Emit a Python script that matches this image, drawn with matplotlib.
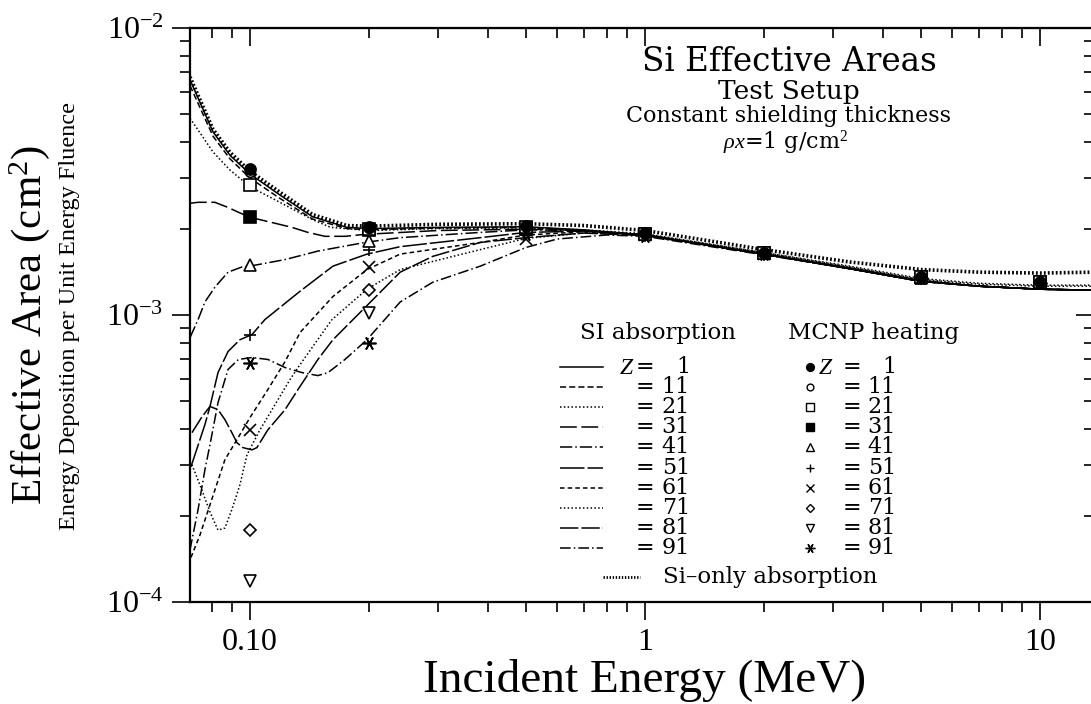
import matplotlib
matplotlib.use("Agg")
import matplotlib.pyplot as plt
from matplotlib.lines import Line2D
from matplotlib.ticker import NullFormatter

plt.rcParams['mathtext.fontset'] = 'custom'
plt.rcParams['mathtext.rm'] = 'Liberation Serif'
plt.rcParams['mathtext.it'] = 'Liberation Serif:italic'

# SI absorption curves, energy (MeV) and effective area (cm^2)
si_E = [0.0705, 0.0806, 0.089, 0.1, 0.119, 0.144, 0.176, 0.2, 0.3, 0.5, 0.7, 1, 2, 3.3, 5, 7, 10, 13.7]
si_A = [6.75e-3, 4.44e-3, 3.69e-3, 3.17e-3, 2.68e-3, 2.24e-3, 2.05e-3, 2.04e-3, 2.07e-3, 2.08e-3,
        2.05e-3, 1.97e-3, 1.69e-3, 1.53e-3, 1.44e-3, 1.41e-3, 1.40e-3, 1.41e-3]

tail_E = [0.7, 1, 2, 3.3, 5, 7, 10, 13.7]

z1_E = [0.0705, 0.0806, 0.089, 0.1, 0.119, 0.144, 0.176, 0.2, 0.3, 0.5] + tail_E
z1_A = [6.6e-3, 4.35e-3, 3.6e-3, 3.1e-3, 2.62e-3, 2.2e-3, 2.02e-3, 2.0e-3, 2.02e-3, 2.03e-3,
        1.98e-3, 1.90e-3, 1.63e-3, 1.46e-3, 1.32e-3, 1.26e-3, 1.23e-3, 1.22e-3]

z11_E = [0.0705, 0.0806, 0.089, 0.1, 0.119, 0.144, 0.176, 0.2, 0.3, 0.5] + tail_E
z11_A = [6.3e-3, 4.2e-3, 3.5e-3, 3.0e-3, 2.55e-3, 2.16e-3, 2.0e-3, 1.98e-3, 2.01e-3, 2.02e-3,
         1.97e-3, 1.90e-3, 1.63e-3, 1.45e-3, 1.31e-3, 1.26e-3, 1.23e-3, 1.22e-3]

z21_E = [0.0705, 0.0806, 0.089, 0.1, 0.119, 0.144, 0.16, 0.2, 0.3, 0.5] + tail_E
z21_A = [4.85e-3, 3.7e-3, 3.2e-3, 2.8e-3, 2.47e-3, 2.15e-3, 2.02e-3, 1.97e-3, 2.0e-3, 2.01e-3,
         1.98e-3, 1.92e-3, 1.65e-3, 1.48e-3, 1.34e-3, 1.29e-3, 1.27e-3, 1.27e-3]

z31_E = [0.0705, 0.0739, 0.0815, 0.088, 0.0935, 0.1, 0.1137, 0.1277, 0.1402, 0.1548, 0.174, 0.1955,
         0.3, 0.5] + tail_E
z31_A = [2.45e-3, 2.47e-3, 2.47e-3, 2.37e-3, 2.28e-3, 2.19e-3, 2.10e-3, 2.02e-3, 1.94e-3, 1.88e-3,
         1.88e-3, 1.91e-3, 1.97e-3, 1.99e-3,
         1.97e-3, 1.90e-3, 1.63e-3, 1.45e-3, 1.31e-3, 1.26e-3, 1.23e-3, 1.22e-3]

z41_E = [0.0705, 0.0739, 0.0769, 0.0815, 0.088, 0.0954, 0.1, 0.1227, 0.1486, 0.1955, 0.24, 0.383,
         0.5] + tail_E
z41_A = [8.34e-4, 9.64e-4, 1.11e-3, 1.25e-3, 1.41e-3, 1.47e-3, 1.48e-3, 1.56e-3, 1.67e-3, 1.79e-3,
         1.86e-3, 1.94e-3, 1.98e-3,
         1.97e-3, 1.90e-3, 1.63e-3, 1.45e-3, 1.31e-3, 1.26e-3, 1.23e-3, 1.22e-3]

z51_E = [0.0709, 0.0769, 0.0792, 0.083, 0.088, 0.0943, 0.1012, 0.1091, 0.1339, 0.1622, 0.1978, 0.24,
         0.383, 0.5] + tail_E
z51_A = [2.96e-4, 4.15e-4, 4.8e-4, 6.3e-4, 7.46e-4, 8.2e-4, 8.55e-4, 9.64e-4, 1.21e-3, 1.48e-3,
         1.63e-3, 1.73e-3, 1.86e-3, 1.94e-3,
         1.96e-3, 1.90e-3, 1.63e-3, 1.45e-3, 1.31e-3, 1.26e-3, 1.23e-3, 1.22e-3]

z61_E = [0.0709, 0.0747, 0.0792, 0.0839, 0.0864, 0.0927, 0.1, 0.111, 0.1227, 0.1339, 0.1622, 0.1978,
         0.24, 0.383, 0.5] + tail_E
z61_A = [1.43e-4, 1.71e-4, 2.18e-4, 2.77e-4, 3.13e-4, 3.68e-4, 4.39e-4, 5.5e-4, 6.88e-4, 8.69e-4,
         1.16e-3, 1.44e-3, 1.63e-3, 1.79e-3, 1.90e-3,
         1.95e-3, 1.90e-3, 1.63e-3, 1.45e-3, 1.31e-3, 1.26e-3, 1.23e-3, 1.22e-3]

z71_E = [0.0713, 0.0747, 0.0792, 0.083, 0.0864, 0.09, 0.0943, 0.0983, 0.106, 0.1157, 0.1263, 0.1339,
         0.1613, 0.1978, 0.24, 0.383, 0.5] + tail_E
z71_A = [3.01e-4, 2.56e-4, 2.06e-4, 1.78e-4, 1.81e-4, 2.10e-4, 2.56e-4, 3.26e-4, 3.98e-4, 4.87e-4,
         5.96e-4, 6.72e-4, 9.64e-4, 1.23e-3, 1.44e-3, 1.69e-3, 1.85e-3,
         1.93e-3, 1.91e-3, 1.65e-3, 1.47e-3, 1.33e-3, 1.28e-3, 1.26e-3, 1.26e-3]

z81_E = [0.0713, 0.0756, 0.0792, 0.083, 0.0864, 0.09, 0.0927, 0.096, 0.1012, 0.1041, 0.111, 0.1227,
         0.1323, 0.1486, 0.1622, 0.1933, 0.24, 0.29, 0.383, 0.5] + tail_E
z81_A = [3.89e-4, 4.42e-4, 4.8e-4, 4.68e-4, 4.32e-4, 3.89e-4, 3.59e-4, 3.45e-4, 3.39e-4, 3.45e-4,
         3.98e-4, 4.68e-4, 5.5e-4, 7.0e-4, 8.2e-4, 1.045e-3, 1.41e-3, 1.60e-3, 1.79e-3, 1.86e-3,
         1.93e-3, 1.89e-3, 1.63e-3, 1.45e-3, 1.31e-3, 1.26e-3, 1.23e-3, 1.22e-3]

z91_E = [0.0705, 0.0739, 0.0769, 0.0792, 0.083, 0.088, 0.0935, 0.1012, 0.111, 0.1227, 0.1354, 0.1486,
         0.1576, 0.174, 0.1978, 0.24, 0.29, 0.383, 0.5, 0.6, 0.8, 1, 2, 3.3, 5, 7, 10, 13.7]
z91_A = [1.52e-4, 2.10e-4, 2.89e-4, 3.53e-4, 4.95e-4, 6.46e-4, 7.0e-4, 7.11e-4, 7.0e-4, 6.56e-4,
         6.3e-4, 6.15e-4, 6.3e-4, 7.0e-4, 8.2e-4, 1.11e-3, 1.30e-3, 1.48e-3, 1.72e-3, 1.84e-3,
         1.90e-3, 1.88e-3, 1.62e-3, 1.45e-3, 1.31e-3, 1.26e-3, 1.23e-3, 1.22e-3]

# MCNP heating points
mcnp_E = [0.1, 0.2, 0.5, 1, 2, 5, 10]
m1 = [3.22e-3, 2.03e-3, 2.05e-3, 1.93e-3, 1.65e-3, 1.36e-3, 1.30e-3]
m11 = [3.15e-3, 2.01e-3, 2.04e-3, 1.92e-3, 1.65e-3, 1.36e-3, 1.30e-3]
m21 = [2.83e-3, 1.99e-3, 2.03e-3, 1.92e-3, 1.65e-3, 1.36e-3, 1.30e-3]
m31 = [2.19e-3, 1.98e-3, 2.01e-3, 1.91e-3, 1.64e-3, 1.36e-3, 1.30e-3]
m41 = [1.49e-3, 1.81e-3, 2.00e-3, 1.91e-3, 1.64e-3, 1.35e-3, 1.30e-3]
m51 = [8.55e-4, 1.68e-3, 1.98e-3, 1.91e-3, 1.64e-3, 1.35e-3, 1.29e-3]
m61 = [3.98e-4, 1.47e-3, 1.84e-3, 1.90e-3, 1.63e-3, 1.35e-3, 1.29e-3]
m71 = [1.78e-4, 1.22e-3, 1.95e-3, 1.90e-3, 1.63e-3, 1.35e-3, 1.29e-3]
m81 = [1.18e-4, 1.02e-3, 1.94e-3, 1.90e-3, 1.63e-3, 1.35e-3, 1.29e-3]
m91 = [6.83e-4, 8.0e-4, 1.92e-3, 1.89e-3, 1.63e-3, 1.35e-3, 1.29e-3]

z_labels = ['1', '11', '21', '31', '41', '51', '61', '71', '81', '91']

curves = [(z1_E, z1_A), (z11_E, z11_A), (z21_E, z21_A), (z31_E, z31_A), (z41_E, z41_A),
          (z51_E, z51_A), (z61_E, z61_A), (z71_E, z71_A), (z81_E, z81_A), (z91_E, z91_A)]
mcnp = [m1, m11, m21, m31, m41, m51, m61, m71, m81, m91]

# line style and marker for each Z
styles = ['-', (0, (4, 2)), (0, (1, 1.5)), (0, (11, 3)), (0, (8, 2, 1, 2)),
          (0, (16, 2)), (0, (3, 2)), (0, (1, 1.5)), (0, (12, 2)), (0, (7, 2, 1, 2))]
marks = [('o', True, 8), ('o', False, 7), ('s', False, 8), ('s', True, 8), ('^', False, 9),
         ('+', False, 9), ('x', False, 8), ('D', False, 6), ('v', False, 9), ((6, 2, 90), False, 10)]

fig = plt.figure(figsize=(10.91, 7.04), dpi=100)
ax = fig.add_axes([190 / 1091, 1 - 602 / 704, 904 / 1091, 574 / 704])
ax.set_xscale('log')
ax.set_yscale('log')
ax.set_xlim(0.0705, 13.7)
ax.set_ylim(1e-4, 1e-2)

ax.plot(si_E, si_A, color='k', lw=2.6, ls=(0, (0.5, 0.6)), dash_capstyle='butt')
for (E, A), st in zip(curves, styles):
    ax.plot(E, A, color='k', lw=1.1, ls=st)

for k in range(9, -1, -1):
    m, filled, ms = marks[k]
    ax.plot(mcnp_E, mcnp[k], ls='none', marker=m, ms=ms, mec='k', mew=1.2,
            mfc='k' if filled else 'white', zorder=5)

for s in ax.spines.values():
    s.set_linewidth(1.6)

ax.set_xticks([0.1, 1, 10])
ax.set_xticklabels(['0.10', '1', '10'])
ax.set_yticks([1e-4, 1e-3, 1e-2])
ax.set_yticklabels([r'$10^{-4}$', r'$10^{-3}$', r'$10^{-2}$'])
ax.tick_params(which='both', direction='out', top=False, right=False, width=1.2,
               labelsize=23)
ax.tick_params(which='major', length=13, pad=6)
ax.tick_params(which='minor', length=7)
for lab in ax.get_xticklabels() + ax.get_yticklabels():
    lab.set_family('Liberation Serif')

sx = ax.secondary_xaxis('top')
sy = ax.secondary_yaxis('right')
for sa, axis in ((sx, sx.xaxis), (sy, sy.yaxis)):
    sa.tick_params(which='both', direction='in', width=1.2)
    sa.tick_params(which='major', length=13)
    sa.tick_params(which='minor', length=7)
    axis.set_major_formatter(NullFormatter())
    axis.set_minor_formatter(NullFormatter())

fig.text(645 / 1091, 1 - 680 / 704, 'Incident Energy (MeV)', family='Liberation Serif',
         fontsize=34, ha='center', va='center')
fig.text(30 / 1091, 1 - 325 / 704, r'Effective Area (cm$^2$)', family='Liberation Serif',
         fontsize=31, rotation=90, ha='center', va='center')
fig.text(70 / 1091, 1 - 316 / 704, 'Energy Deposition per Unit Energy Fluence',
         family='Liberation Serif', fontsize=17.5, rotation=90, ha='center', va='center')

# title block
serif = 'DejaVu Serif'
def ftext(px, py, s, size, **kw):
    fig.text(px / 1091, 1 - py / 704, s, family=serif, fontsize=size,
             ha=kw.pop('ha', 'center'), va=kw.pop('va', 'center'), **kw)

ftext(789, 62, 'Si Effective Areas', 23.5)
ftext(789, 92, 'Test Setup', 19)
ftext(788, 116, 'Constant shielding thickness', 16)
ftext(786, 142, r'$\rho x$=1 g/cm$^2$', 16)

# legend
ftext(658, 333, 'SI absorption', 16.5)
ftext(788, 333, 'MCNP heating', 16.5, ha='left')
for k in range(10):
    py = 367 + k * 20.1
    yf = 1 - py / 704
    fig.add_artist(Line2D([560 / 1091, 603 / 1091], [yf, yf], color='k', lw=1.1, ls=styles[k]))
    m, filled, ms = marks[k]
    fig.add_artist(Line2D([810 / 1091], [yf], ls='none', marker=m, ms=ms * 0.7, mec='k',
                          mew=1.0, mfc='k' if filled else 'white'))
    if k == 0:
        ftext(627, py, '$Z$', 17, ha='center')
        ftext(826, py, '$Z$', 17, ha='center')
    ftext(645, py, '=', 16)
    ftext(852, py, '=', 16)
    ftext(690, py, z_labels[k], 16, ha='right')
    ftext(896, py, z_labels[k], 16, ha='right')
fig.add_artist(Line2D([603 / 1091, 640 / 1091], [1 - 577 / 704] * 2, color='k', lw=2.0,
                      ls=(0, (0.5, 0.6)), dash_capstyle='butt'))
ftext(663, 577, 'Si\u2013only absorption', 16.5, ha='left')

fig.savefig('out.png', dpi=100)
